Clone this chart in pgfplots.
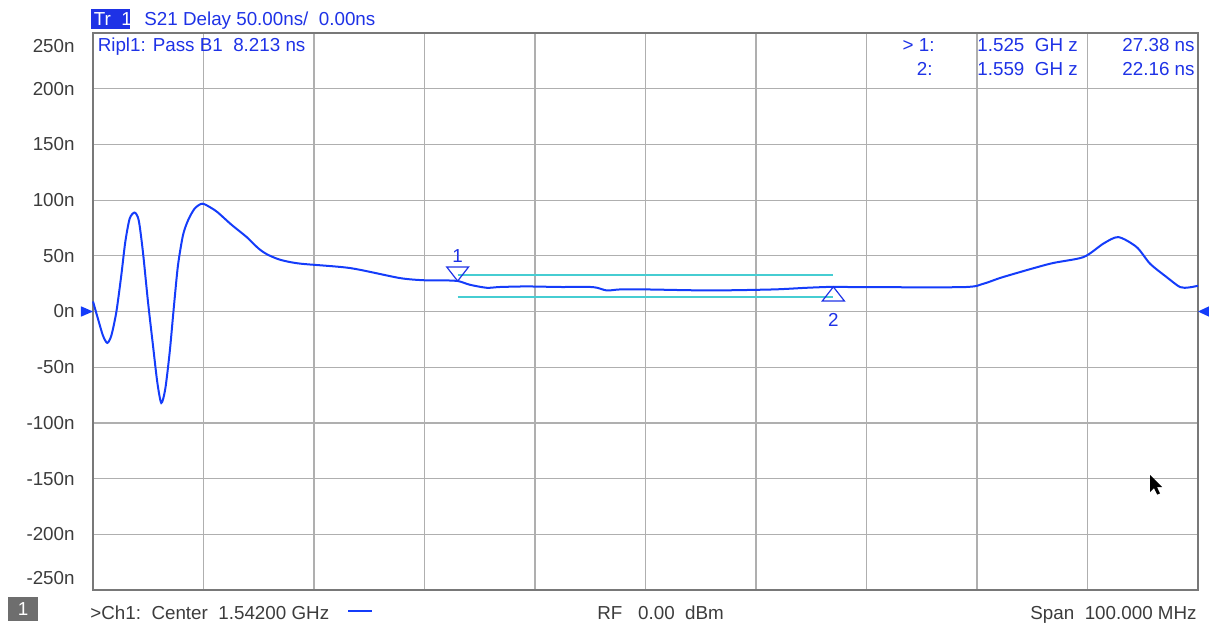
\documentclass[border=0pt]{standalone}
\usepackage{fontspec}
\setmainfont{Liberation Sans}
\usepackage{pgfplots}
\pgfplotsset{compat=1.18}
\definecolor{trace}{RGB}{20,60,250}
\definecolor{txtblue}{RGB}{30,50,230}
\definecolor{ripl}{RGB}{70,205,210}
\definecolor{gridgray}{RGB}{175,175,175}
\definecolor{framegray}{RGB}{120,120,120}
\definecolor{lbl}{RGB}{60,60,60}
\definecolor{boxgray}{RGB}{110,110,110}

\begin{document}
\begin{tikzpicture}[font=\fontsize{9.4}{11}\selectfont]
\path[use as bounding box] (-46.5pt,-18.5pt) rectangle (558pt,295pt);
\begin{axis}[
  at={(0,0)}, anchor=south west,
  scale only axis, width=552.5pt, height=278.5pt,
  xmin=1.492, xmax=1.592, ymin=-250, ymax=250,
  xtick={1.502,1.512,1.522,1.532,1.542,1.552,1.562,1.572,1.582},
  xticklabels={},
  ytick={-200,-150,-100,-50,0,50,100,150,200},
  yticklabels={-200n,-150n,-100n,-50n,0n,50n,100n,150n,200n},
  yticklabel style={text=lbl, anchor=east, inner sep=0pt, xshift=-9pt},
  major tick length=0pt,
  grid=major, major grid style={gridgray, line width=0.6pt},
  axis line style={framegray, line width=0.8pt},
  clip=false,
]
% ripple limit lines
\addplot[ripl, line width=0.9pt] coordinates {(1.525,33.0) (1.559,33.0)};
\addplot[ripl, line width=0.9pt] coordinates {(1.525,12.9) (1.559,12.9)};
% S21 group delay trace (ns)
\addplot[trace, line width=1pt, smooth, tension=0.45] coordinates {
(1.49200,9.0) (1.49245,-6.6) (1.49290,-21.6) (1.49329,-28.2) (1.49366,-21.6)
(1.49411,-0.6) (1.49456,32.4) (1.49492,62.3) (1.49532,83.4) (1.49577,88.8)
(1.49614,81.8) (1.49652,53.3) (1.49698,8.4) (1.49743,-30.6) (1.49782,-63.6)
(1.49818,-82.1) (1.49854,-69.5) (1.49894,-36.6) (1.49933,5.4) (1.49969,41.4)
(1.50014,68.3) (1.50060,81.8) (1.50120,92.4) (1.50189,96.8) (1.50271,92.9)
(1.50331,88.8) (1.50452,78) (1.50591,66.8) (1.50693,57) (1.50772,51.5)
(1.50892,46.5) (1.51073,43) (1.51526,39) (1.51978,30) (1.52205,28)
(1.52340,28) (1.52500,27.38) (1.52611,24) (1.52763,21.3) (1.52883,22)
(1.53125,22.5) (1.53426,22) (1.53725,21.9) (1.53849,18.9) (1.53969,19.8)
(1.54211,19.8) (1.54784,18.9) (1.55354,19.8) (1.55659,21.3) (1.55900,22.16)
(1.56141,21.9) (1.57076,21.9) (1.57257,24.9) (1.57438,31) (1.57861,42.9)
(1.58162,48.8) (1.58343,60.9) (1.58479,66.8) (1.58645,57.8) (1.58766,42.9)
(1.58917,30.8) (1.59038,21.9) (1.59118,21.6) (1.59200,23.1)};
% markers
\addplot[txtblue, only marks, mark=triangle, mark size=4.7pt,
  mark options={yshift=4.7pt, rotate=180, xscale=1.35, line width=0.6pt}]
  coordinates {(1.525,27.38)};
\addplot[txtblue, only marks, mark=triangle, mark size=4.7pt,
  mark options={yshift=-4.7pt, xscale=1.35, line width=0.6pt}]
  coordinates {(1.559,22.16)};
\node[text=txtblue] at (axis cs:1.525,27.38) [yshift=12.5pt] {1};
\node[text=txtblue] at (axis cs:1.559,22.16) [yshift=-16.8pt] {2};
\end{axis}
% reference position arrows (0 ns)
\fill[trace] (0pt,139.25pt) -- (-6pt,141.85pt) -- (-6pt,136.65pt) -- cycle;
\fill[trace] (552.5pt,139.25pt) -- (558pt,141.85pt) -- (558pt,136.65pt) -- cycle;
% edge tick labels
\node[text=lbl, anchor=east, inner sep=0pt] at (-9pt,272pt) {250n};
\node[text=lbl, anchor=east, inner sep=0pt] at (-9pt,6pt) {-250n};
% header
\fill[txtblue] (-1pt,280.4pt) rectangle (18.5pt,290.4pt);
\node[anchor=base west, inner sep=0pt, text=white] at (0.2pt,282pt) {Tr\ \ 1};
\node[anchor=base west, inner sep=0pt, text=txtblue] at (25.5pt,282pt) {S21 Delay 50.00ns/\ \ 0.00ns};
\node[anchor=base west, inner sep=0pt, text=txtblue] at (2.2pt,269pt) {Ripl1: Pass B1\ \ 8.213 ns};
\node[anchor=base east, inner sep=0pt, text=txtblue] at (421pt,269pt) {> 1:};
\node[anchor=base east, inner sep=0pt, text=txtblue] at (420pt,257pt) {2:};
\node[anchor=base west, inner sep=0pt, text=txtblue] at (442pt,269pt) {1.525\ \ GH z};
\node[anchor=base west, inner sep=0pt, text=txtblue] at (442pt,257pt) {1.559\ \ GH z};
\node[anchor=base east, inner sep=0pt, text=txtblue] at (551pt,269pt) {27.38 ns};
\node[anchor=base east, inner sep=0pt, text=txtblue] at (551pt,257pt) {22.16 ns};
% footer
\fill[boxgray] (-42.5pt,-15.5pt) rectangle (-27.5pt,-3.5pt);
\node[text=white, inner sep=0pt] at (-35pt,-9.5pt) {1};
\node[anchor=base west, inner sep=0pt, text=lbl] at (-1.5pt,-14.5pt) {>Ch1:\ \ Center\ \ 1.54200\ GHz};
\draw[trace, line width=1pt] (127.5pt,-10.5pt) -- (139.5pt,-10.5pt);
\node[anchor=base west, inner sep=0pt, text=lbl] at (252pt,-14.5pt) {RF\ \ \ 0.00\ \ dBm};
\node[anchor=base east, inner sep=0pt, text=lbl] at (552pt,-14.5pt) {Span\ \ 100.000 MHz};
% mouse pointer
\fill[black] (528.5pt,57.5pt) -- ++(0,-8.5pt) -- ++(2pt,1.9pt) -- ++(1.6pt,-3.2pt)
  -- ++(1.4pt,0.6pt) -- ++(-1.5pt,3.1pt) -- ++(2.6pt,0) -- cycle;
\end{tikzpicture}
\end{document}
